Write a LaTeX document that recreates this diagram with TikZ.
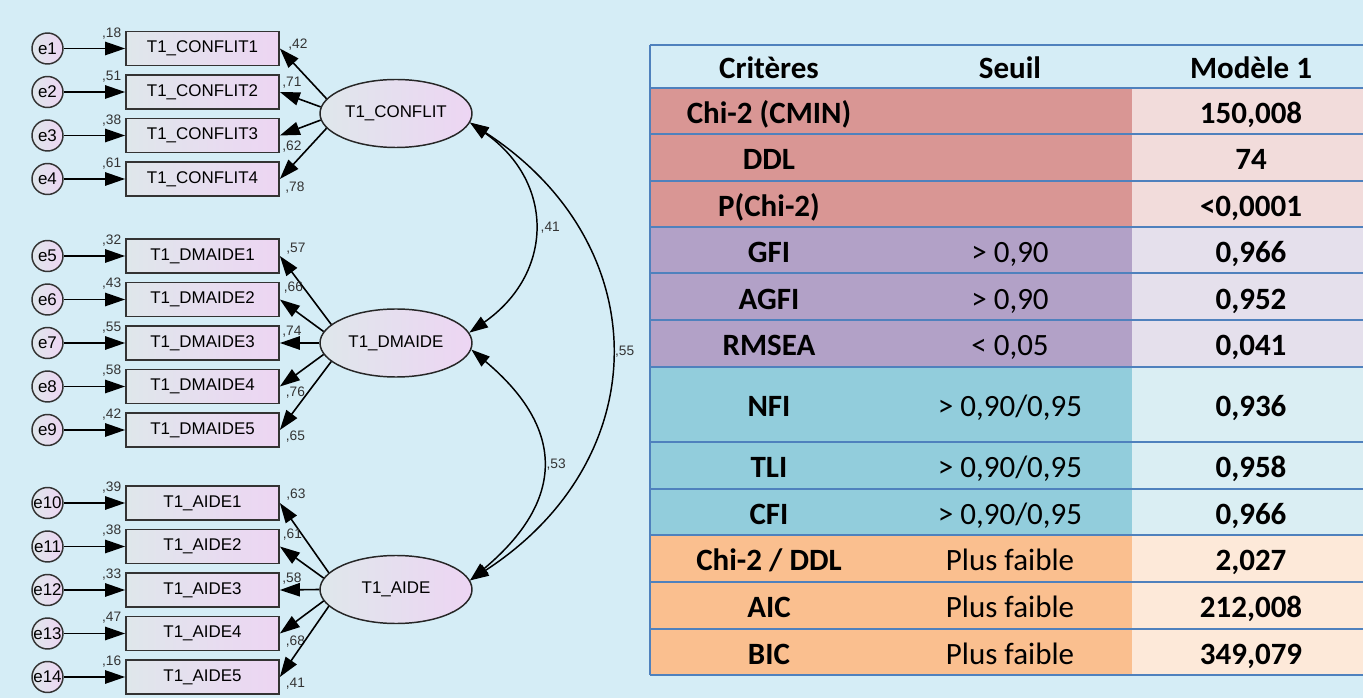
\documentclass[tikz,border=0pt]{standalone}
\usepackage{fontspec}
\setmainfont{Liberation Sans}
\newfontfamily\tabfont{Carlito}
\usepackage{xcolor}
\usetikzlibrary{arrows.meta,positioning,shapes.geometric,calc}

\definecolor{pagebg}{HTML}{D5EDF6}
\definecolor{boxleft}{HTML}{DFE7EB}
\definecolor{boxright}{HTML}{EDD5F3}
\definecolor{tabline}{HTML}{4F81BD}
\definecolor{chidark}{HTML}{D99694}
\definecolor{chilight}{HTML}{F2DCDB}
\definecolor{gfidark}{HTML}{B2A1C7}
\definecolor{gfilight}{HTML}{E5E0EC}
\definecolor{nfidark}{HTML}{92CDDC}
\definecolor{nfilight}{HTML}{DAEEF3}
\definecolor{aicdark}{HTML}{FABF8F}
\definecolor{aiclight}{HTML}{FDE9D9}

\begin{document}
\begin{tikzpicture}[x=0.75pt, y=-0.75pt,
    item/.style={rectangle, draw=black!80, line width=1.3pt, left color=boxleft, right color=boxright,
        minimum width=114.75pt, minimum height=25.5pt, inner sep=0pt, font=\fontsize{12.7}{14}\selectfont},
    err/.style={circle, draw=black!80, line width=1.1pt, left color=boxleft, right color=boxright,
        minimum size=23.25pt, inner sep=0pt, font=\fontsize{12.7}{14}\selectfont},
    latent/.style={ellipse, draw=black!85, line width=1.1pt, left color=boxleft, right color=boxright,
        minimum width=114pt, minimum height=51pt, inner sep=0pt, font=\fontsize{12.7}{14}\selectfont},
    est/.style={inner sep=0pt, font=\fontsize{10.3}{12}\selectfont, text=black!80},
    load/.style={-{Triangle[length=15pt,width=10pt]}, line width=1.2pt},
    cov/.style={{Triangle[length=14pt,width=9.5pt]}-{Triangle[length=14pt,width=9.5pt]}, line width=1.1pt},
    tabtxt/.style={anchor=base, inner sep=0pt, font=\tabfont\fontsize{23.25}{26}\selectfont},
    tabbold/.style={anchor=base, inner sep=0pt, font=\tabfont\bfseries\fontsize{23.25}{26}\selectfont},
    rowline/.style={draw=tabline, line width=1.5pt}
]
    % Page
    \useasboundingbox (0,0) rectangle (1363,698);
    \fill[pagebg] (0,0) rectangle (1363,698);

    % Latent variables
    \node[latent] (conflit) at (396,113.5) {T1\_CONFLIT};
    \node[latent] (dmaide) at (396,343) {T1\_DMAIDE};
    \node[latent] (aide) at (396,589.5) {T1\_AIDE};

    % T1_CONFLIT indicators
    \foreach \i/\y/\r/\a/\l/\dx/\dy in {1/48.5/18/168/42/18/-4, 2/92/51/175/71/12/-9,
        3/135.5/38/185/62/12/11.5, 4/179/61/192/78/15/9}{
        \node[err] (e\i) at (47.5,\y) {e\i};
        \node[item] (c\i) at (202.5,\y) {T1\_CONFLIT\i};
        \draw[load] (e\i) -- (c\i);
        \draw[load] (conflit.\a) -- (c\i.east);
        \node[est] (rc\i) at ($(c\i.west)+(-13.5,-15)$) {,\r};
        \node[est] (lc\i) at ($(c\i.east)+(\dx,\dy)$) {,\l};
    }

    % T1_DMAIDE indicators
    \foreach \i/\k/\y/\r/\a/\l/\dx/\dy in {1/5/256/32/164/57/16/-7.5, 2/6/299.5/43/171/66/13.5/-11.5,
        3/7/343/55/180/74/12/-11.5, 4/8/386.5/58/189/76/15.5/6.5, 5/9/430/42/196/65/15.5/6.5}{
        \node[err] (e\k) at (47.5,\y) {e\k};
        \node[item] (d\i) at (202.5,\y) {T1\_DMAIDE\i};
        \draw[load] (e\k) -- (d\i);
        \draw[load] (dmaide.\a) -- (d\i.east);
        \node[est] (rd\i) at ($(d\i.west)+(-13.5,-15.5)$) {,\r};
        \node[est] (ld\i) at ($(d\i.east)+(\dx,\dy)$) {,\l};
    }

    % T1_AIDE indicators
    \foreach \i/\k/\y/\r/\a/\l/\dx/\dy in {1/10/503/39/166/63/16/-8, 2/11/546.5/38/171/61/12.5/-11.5,
        3/12/590/33/180/58/12/-11.5, 4/13/633.5/47/189/68/15.5/8, 5/14/677/16/194/41/15.5/6.5}{
        \node[err] (e\k) at (47.5,\y) {e\k};
        \node[item] (a\i) at (202.5,\y) {T1\_AIDE\i};
        \draw[load] (e\k) -- (a\i);
        \draw[load] (aide.\a) -- (a\i.east);
        \node[est] (ra\i) at ($(a\i.west)+(-13.5,-15.5)$) {,\r};
        \node[est] (la\i) at ($(a\i.east)+(\dx,\dy)$) {,\l};
    }

    % Covariances
    \draw[cov] (conflit.-7) to[out=-35, in=35, looseness=1.26]
        node[est, right=5pt] (k41) {,41} (dmaide.8);
    \draw[cov] (dmaide.-5) to[out=-40, in=40, looseness=1.37]
        node[est, right=3pt] (k53) {,53} (aide.7);
    \draw[cov] (conflit.-7) to[out=-33, in=33, looseness=1.25]
        node[est, right=3pt] (k55) {,55} (aide.7);

    % Fit table: cell colours
    \fill[chidark] (650,88) rectangle (1132,227.5);
    \fill[chilight] (1132,88) rectangle (1363,227.5);
    \fill[gfidark] (650,227.5) rectangle (1132,367);
    \fill[gfilight] (1132,227.5) rectangle (1363,367);
    \fill[nfidark] (650,367) rectangle (1132,535);
    \fill[nfilight] (1132,367) rectangle (1363,535);
    \fill[aicdark] (650,535) rectangle (1132,674.5);
    \fill[aiclight] (1132,535) rectangle (1363,674.5);

    % Fit table: rules
    \foreach \y in {45,88,134,181,227.5,273.5,320,367,441.5,488.5,535,581.5,628.5,674.5}
        \draw[rowline] (650,\y) -- (1363,\y);
    \draw[rowline] (650,45) -- (650,674.5);

    % Fit table: header
    \node[tabbold] (hcrit) at (769,79) {Critères};
    \node[tabbold] (hseuil) at (1010,79) {Seuil};
    \node[tabbold] (hmod) at (1251,79) {Modèle 1};

    % Fit table: rows
    \foreach \n/\yc/\crit/\seuil/\val in {1/111/{Chi-2 (CMIN)}/{}/{150,008}, 2/157.5/DDL/{}/74,
        3/204.25/{P(Chi-2)}/{}/{<0,0001}, 4/250.5/GFI/{> 0,90}/{0,966}, 5/296.75/AGFI/{> 0,90}/{0,952},
        6/343.5/RMSEA/{< 0,05}/{0,041}, 7/404.25/NFI/{> 0,90/0,95}/{0,936}, 8/465/TLI/{> 0,90/0,95}/{0,958},
        9/511.75/CFI/{> 0,90/0,95}/{0,966}, 10/558.25/{Chi-2 / DDL}/{Plus faible}/{2,027},
        11/605/AIC/{Plus faible}/{212,008}, 12/651.5/BIC/{Plus faible}/{349,079}}{
        \node[tabbold] (crit\n) at (769,\yc+12.5) {\crit};
        \node[tabtxt] (seuil\n) at (1010,\yc+12.5) {\seuil};
        \node[tabbold] (val\n) at (1251,\yc+12.5) {\val};
    }
\end{tikzpicture}
\end{document}
